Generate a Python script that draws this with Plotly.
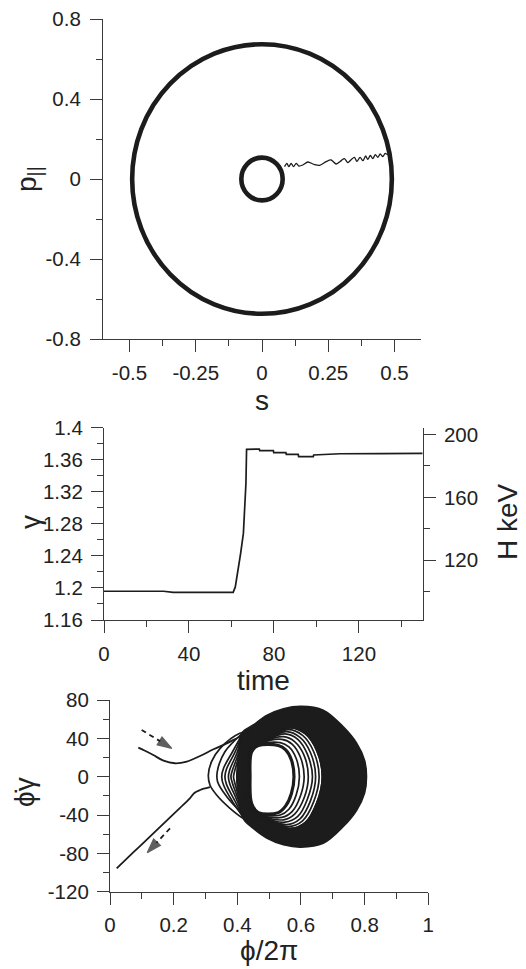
import plotly.graph_objects as go

# ---------------- data: top panel (s, p_parallel) ----------------
ring_half_s = [0.49, 0.078]      # half widths of the two closed orbits (s units)
ring_half_p = [0.674, 0.107]     # half heights (p units)
wiggle_s = [0.085, 0.094, 0.101, 0.110, 0.119, 0.129, 0.139, 0.154, 0.173, 0.198, 0.217,
            0.242, 0.261, 0.280, 0.299, 0.311, 0.324, 0.337, 0.349, 0.358, 0.370, 0.381,
            0.391, 0.399, 0.409, 0.418, 0.428, 0.437, 0.446, 0.456, 0.465, 0.475, 0.484]
wiggle_p = [0.062, 0.078, 0.062, 0.078, 0.062, 0.078, 0.065, 0.070, 0.085, 0.072, 0.068,
            0.087, 0.095, 0.075, 0.092, 0.102, 0.082, 0.098, 0.108, 0.088, 0.108, 0.092,
            0.115, 0.098, 0.118, 0.102, 0.122, 0.108, 0.125, 0.112, 0.128, 0.122, 0.132]
top_xticks = [-0.5, -0.25, 0, 0.25, 0.5]
top_xtext = ["-0.5", "-0.25", "0", "0.25", "0.5"]
top_yticks = [-0.8, -0.4, 0, 0.4, 0.8]
top_ytext = ["-0.8", "-0.4", "0", "0.4", "0.8"]

# ---------------- data: middle panel (gamma vs time) ----------------
time = [0, 10, 20, 28, 32.6, 40, 50, 58, 60.8, 61.8, 63.2, 64.3, 65.6, 66.4, 66.8, 67.1,
        70, 73.1, 73.3, 79.7, 79.9, 85.6, 85.8, 91.4, 91.6, 98.5, 98.7, 111, 130, 150]
gamma = [1.1959, 1.1959, 1.1959, 1.1959, 1.1945, 1.1945, 1.1945, 1.1945, 1.1945, 1.2013,
         1.2221, 1.2430, 1.2681, 1.3013, 1.3305, 1.3730, 1.3734, 1.3734, 1.3713, 1.3713,
         1.3688, 1.3688, 1.3667, 1.3667, 1.3640, 1.3640, 1.3659, 1.3675, 1.3677, 1.3680]
mid_yticks = [1.16, 1.2, 1.24, 1.28, 1.32, 1.36, 1.4]
mid_ytext = ["1.16", "1.2", "1.24", "1.28", "1.32", "1.36", "1.4"]
mid_xticks = [0, 40, 80, 120]
mid_xtext = ["0", "40", "80", "120"]
hkev_ticks = [120, 160, 200]
hkev_text = ["120", "160", "200"]

# ---------------- data: bottom panel (phase portrait) ----------------
entry_phi = [0.089, 0.11, 0.136, 0.168, 0.204, 0.241, 0.283, 0.325, 0.367, 0.408, 0.44]
entry_val = [30.3, 27.0, 22.6, 16.7, 14.0, 15.7, 21.6, 28.6, 34.8, 41.7, 46.0]
exit_phi = [0.314, 0.295, 0.283, 0.265, 0.251, 0.22, 0.178, 0.105, 0.073, 0.021]
exit_val = [-10.8, -12.5, -13.9, -17.0, -22.6, -32.5, -45.8, -69.0, -79.0, -95.6]
band_phi = [0.415, 0.45, 0.492, 0.545, 0.60, 0.67, 0.733, 0.775, 0.80, 0.806, 0.80, 0.775,
            0.733, 0.67, 0.60, 0.545, 0.492, 0.45, 0.419, 0.405, 0.398, 0.405, 0.415]
band_val = [46, 54, 64, 71, 73.5, 69.5, 52, 35, 17, 0, -17, -35, -52, -69.5, -73.5, -71,
            -64, -54, -44, -25, 0, 25, 46]
loop_phi = [
    [0.445, 0.466, 0.529, 0.552, 0.570, 0.578, 0.570, 0.552, 0.529, 0.466, 0.445, 0.440, 0.445],
    [0.444, 0.470, 0.535, 0.562, 0.585, 0.595, 0.585, 0.562, 0.535, 0.470, 0.444, 0.438, 0.444],
    [0.443, 0.475, 0.540, 0.572, 0.598, 0.610, 0.598, 0.572, 0.540, 0.475, 0.443, 0.437, 0.443],
    [0.442, 0.480, 0.545, 0.580, 0.610, 0.623, 0.610, 0.580, 0.545, 0.480, 0.442, 0.436, 0.442],
    [0.441, 0.485, 0.550, 0.590, 0.620, 0.636, 0.620, 0.590, 0.550, 0.485, 0.441, 0.435, 0.441],
    [0.440, 0.490, 0.555, 0.597, 0.630, 0.646, 0.630, 0.597, 0.555, 0.490, 0.440, 0.434, 0.440],
    [0.439, 0.495, 0.560, 0.605, 0.640, 0.657, 0.640, 0.605, 0.560, 0.495, 0.439, 0.433, 0.439],
    [0.438, 0.500, 0.565, 0.613, 0.650, 0.667, 0.650, 0.613, 0.565, 0.500, 0.438, 0.432, 0.438],
]
loop_val = [
    [26, 32.5, 32.5, 28, 17.5, 0, -17.5, -30.5, -37.5, -37.5, -28, 0, 26],
    [27, 33.7, 35.5, 31, 19, 0, -19, -34, -40, -38.7, -29, 0, 27],
    [28, 34.9, 39, 34, 20.5, 0, -20.5, -36.5, -42.5, -39.9, -30, 0, 28],
    [29, 36.1, 41.7, 36.5, 22, 0, -22, -39, -45, -41.1, -31, 0, 29],
    [30, 37.3, 44.6, 39, 23.5, 0, -23.5, -41.5, -47.5, -42.3, -32, 0, 30],
    [31, 38.5, 47, 41, 25, 0, -25, -44, -50, -43.5, -33, 0, 31],
    [32, 39.7, 49, 43, 26, 0, -26, -46, -52, -44.7, -34, 0, 32],
    [33, 40.9, 51, 45, 27, 0, -27, -48, -54, -45.9, -35, 0, 33],
]
cusp_phi = [
    [0.44, 0.408, 0.346, 0.319, 0.309, 0.314, 0.335, 0.377, 0.419, 0.44],
    [0.415, 0.361, 0.337, 0.338, 0.367, 0.414],
    [0.415, 0.385, 0.357, 0.351, 0.357, 0.385, 0.418],
    [0.415, 0.392, 0.366, 0.361, 0.366, 0.392, 0.418],
    [0.415, 0.398, 0.376, 0.372, 0.376, 0.398, 0.418],
    [0.415, 0.402, 0.384, 0.380, 0.384, 0.402, 0.418],
    [0.415, 0.405, 0.391, 0.388, 0.391, 0.405, 0.418],
]
cusp_val = [
    [47, 45.3, 29.6, 15.7, 1.7, -8.7, -19.1, -33, -43.5, -46],
    [45, 26, 5.2, -5.2, -20.9, -38.2],
    [44, 26, 9, 0, -9, -26, -42],
    [43, 25, 8, 0, -8, -25, -42],
    [42, 24, 7, 0, -7, -24, -42],
    [41, 23, 6, 0, -6, -23, -41],
    [40, 22, 5, 0, -5, -22, -40],
]
arrow_tail_phi = [0.0995, 0.1885]
arrow_tail_val = [48.7, -53.9]
arrow_tip_phi = [0.194, 0.117]
arrow_tip_val = [29.6, -79.3]
bot_xticks = [0, 0.2, 0.4, 0.6, 0.8, 1]
bot_xtext = ["0", "0.2", "0.4", "0.6", "0.8", "1"]
bot_yticks = [-120, -80, -40, 0, 40, 80]
bot_ytext = ["-120", "-80", "-40", "0", "40", "80"]

# ---------------- figure ----------------
W, H = 526, 969
INK = "#1c1c1c"
AX = "#3a3a3a"
FONT = "Liberation Sans, Arial, sans-serif"

fig = go.Figure()

# top panel
fig.add_trace(go.Scatter(x=wiggle_s, y=wiggle_p, mode="lines", xaxis="x", yaxis="y",
                         line=dict(color=INK, width=1.3, shape="spline", smoothing=0.8),
                         showlegend=False, hoverinfo="skip"))
for hs, hp in zip(ring_half_s, ring_half_p):
    fig.add_shape(type="circle", xref="x", yref="y", x0=-hs, x1=hs, y0=-hp, y1=hp,
                  line=dict(color=INK, width=4.6))

# middle panel
fig.add_trace(go.Scatter(x=time, y=gamma, mode="lines", xaxis="x2", yaxis="y2",
                         line=dict(color=INK, width=1.7), showlegend=False, hoverinfo="skip"))

# bottom panel
fig.add_trace(go.Scatter(x=band_phi, y=band_val, mode="lines", xaxis="x3", yaxis="y3",
                         fill="toself", fillcolor=INK, line=dict(color=INK, width=1.5, shape="spline"),
                         showlegend=False, hoverinfo="skip"))
fig.add_trace(go.Scatter(x=loop_phi[-1], y=loop_val[-1], mode="lines", xaxis="x3", yaxis="y3",
                         fill="toself", fillcolor="white", line=dict(color=INK, width=1.8, shape="spline"),
                         showlegend=False, hoverinfo="skip"))
for i, (lp, lv) in enumerate(zip(loop_phi, loop_val)):
    fig.add_trace(go.Scatter(x=lp, y=lv, mode="lines", xaxis="x3", yaxis="y3",
                             line=dict(color=INK, width=3.2 if i == 0 else 1.7, shape="spline"),
                             showlegend=False, hoverinfo="skip"))
for cp, cv in zip(cusp_phi, cusp_val):
    fig.add_trace(go.Scatter(x=cp, y=cv, mode="lines", xaxis="x3", yaxis="y3",
                             line=dict(color=INK, width=1.7, shape="spline"),
                             showlegend=False, hoverinfo="skip"))
fig.add_trace(go.Scatter(x=entry_phi, y=entry_val, mode="lines", xaxis="x3", yaxis="y3",
                         line=dict(color=INK, width=1.8, shape="spline"), showlegend=False, hoverinfo="skip"))
fig.add_trace(go.Scatter(x=exit_phi, y=exit_val, mode="lines", xaxis="x3", yaxis="y3",
                         line=dict(color=INK, width=1.8, shape="spline"), showlegend=False, hoverinfo="skip"))
for tp, tv, hp_, hv in zip(arrow_tail_phi, arrow_tail_val, arrow_tip_phi, arrow_tip_val):
    fig.add_trace(go.Scatter(x=[tp, hp_], y=[tv, hv], mode="lines+markers", xaxis="x3", yaxis="y3",
                             line=dict(color=INK, width=1.8, dash="5px,4px"),
                             marker=dict(symbol=["circle", "arrow"], size=[0, 15], color=INK,
                                         angleref="previous", line=dict(width=1.2, color=INK)),
                             showlegend=False, hoverinfo="skip"))

def px_x(p):
    return p / W

def px_y(p):
    return 1 - p / H

tickfont = dict(family=FONT, size=20.5, color="#222")
MINOR = dict(ticklen=6, ticks="outside", tickcolor=AX, tickwidth=1.2)

def axis_common(minor_vals, **kw):
    d = dict(showline=True, linecolor=AX, linewidth=1.2, ticks="outside", ticklen=12,
             tickwidth=1.2, tickcolor=AX, showgrid=False, zeroline=False, tickfont=tickfont,
             tickmode="array", fixedrange=True, automargin=False,
             minor=dict(MINOR, tickvals=minor_vals))
    d.update(kw)
    return d

fig.update_layout(
    width=W, height=H, margin=dict(l=0, r=0, t=0, b=0, autoexpand=False),
    paper_bgcolor="white", plot_bgcolor="rgba(0,0,0,0)",
    font=dict(family=FONT, color="#222"),
    xaxis=axis_common([-0.375, -0.125, 0.125, 0.375],
                      domain=[px_x(103), px_x(421)], range=[-0.6, 0.6], anchor="y",
                      tickvals=top_xticks, ticktext=top_xtext, ticklabelstandoff=3),
    yaxis=axis_common([-0.6, -0.2, 0.2, 0.6],
                      domain=[px_y(339), px_y(19)], range=[-0.8, 0.8], anchor="x",
                      tickvals=top_yticks, ticktext=top_ytext, ticklabelstandoff=5),
    xaxis2=axis_common([20, 60, 100, 140],
                       domain=[px_x(104), px_x(422.7)], range=[0, 150], anchor="y2",
                       tickvals=mid_xticks, ticktext=mid_xtext, ticklabelstandoff=3),
    yaxis2=axis_common([1.18, 1.22, 1.26, 1.30, 1.34, 1.38],
                       domain=[px_y(620), px_y(427.7)], range=[1.16, 1.4], anchor="x2",
                       tickvals=mid_yticks, ticktext=mid_ytext, ticklabelstandoff=4),
    yaxis4=axis_common([100, 140, 180],
                       range=[(1.16 - 1) * 511, (1.4 - 1) * 511], anchor="x2",
                       overlaying="y2", side="right",
                       tickvals=hkev_ticks, ticktext=hkev_text, ticklabelstandoff=4),
    xaxis3=axis_common([0.1, 0.3, 0.5, 0.7, 0.9],
                       domain=[px_x(110), px_x(428.3)], range=[0, 1], anchor="y3",
                       tickvals=bot_xticks, ticktext=bot_xtext, ticklabelstandoff=3),
    yaxis3=axis_common([-100, -60, -20, 20, 60],
                       domain=[px_y(891.7), px_y(700)], range=[-120, 80], anchor="x3",
                       tickvals=bot_yticks, ticktext=bot_ytext, ticklabelstandoff=4),
)

# dummy trace so the right axis renders
fig.add_trace(go.Scatter(x=[None], y=[None], xaxis="x2", yaxis="y4", showlegend=False,
                         hoverinfo="skip"))

titlefont = dict(family=FONT, size=28, color="#222")
titles = [
    ("s", 262, 401, 0),
    ("p<sub>||</sub>", 28, 179, -90),
    ("time", 263, 680, 0),
    ("γ", 30, 522, -90),
    ("H keV", 507, 522, -90),
    ("ϕ/2π", 269, 950, 0),
    ("ϕ\u0307γ", 24, 792, -90),
]
for txt, xp, yp, ang in titles:
    fig.add_annotation(text=txt, x=px_x(xp), y=px_y(yp), xref="paper", yref="paper",
                       showarrow=False, textangle=ang, font=titlefont,
                       xanchor="center", yanchor="middle")

fig.write_html("out.html", config={"displayModeBar": False},
               post_script="document.body.style.margin='0';document.body.style.overflow='hidden';")
